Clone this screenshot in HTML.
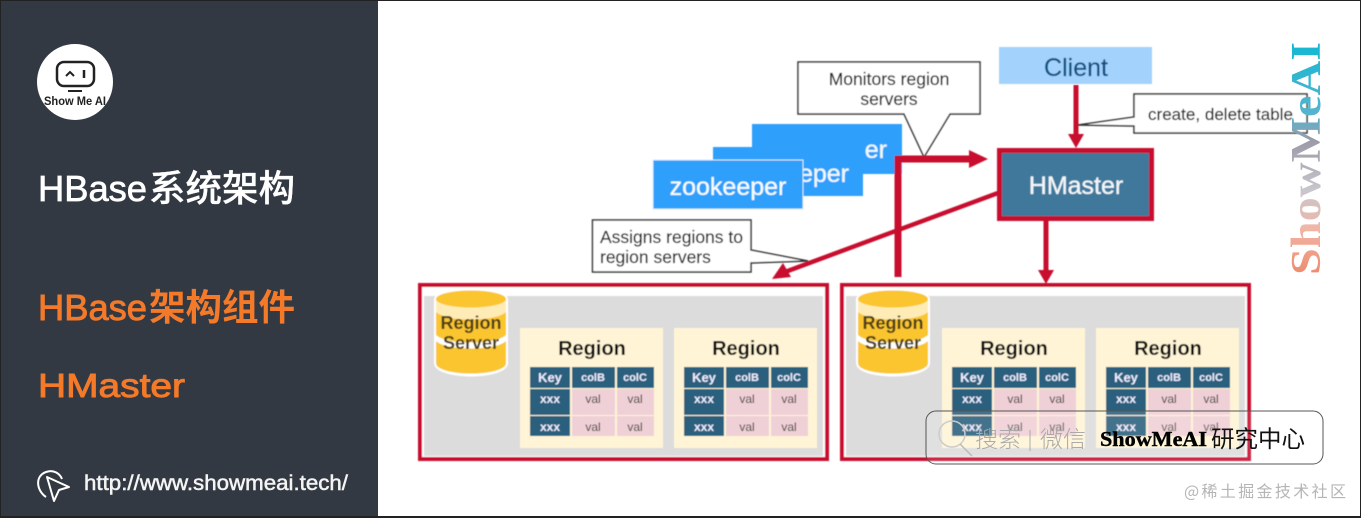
<!DOCTYPE html>
<html><head><meta charset="utf-8"><style>
html,body{margin:0;padding:0;background:#fff;width:1361px;height:518px;overflow:hidden}
svg{display:block}
text{font-family:"Liberation Sans","Noto Sans CJK SC",sans-serif}
</style></head><body>
<svg width="1361" height="518" viewBox="0 0 1361 518" xmlns="http://www.w3.org/2000/svg">
<defs>
<linearGradient id="wm" gradientUnits="userSpaceOnUse" x1="0" y1="0" x2="233" y2="0">
<stop offset="0" stop-color="#ee8a6c"/><stop offset=".2" stop-color="#f0b6a6"/><stop offset=".36" stop-color="#c9c7cc"/><stop offset=".58" stop-color="#9a9aa8"/><stop offset=".68" stop-color="#58b4cf"/><stop offset="1" stop-color="#12b8d2"/>
</linearGradient>
<filter id="b" x="-2%" y="-2%" width="104%" height="104%"><feGaussianBlur stdDeviation="0.45"/></filter>
<g id="table">
<rect x="0" y="0" width="143" height="120" fill="#fff4d6"/>
<text x="72" y="27" font-size="20" font-weight="bold" text-anchor="middle" fill="#111">Region</text>
<rect x="10" y="39" width="40" height="21" fill="#2b5f7d"/><rect x="52" y="39" width="43" height="21" fill="#2b5f7d"/><rect x="97" y="39" width="37" height="21" fill="#2b5f7d"/>
<rect x="10" y="61" width="40" height="26" fill="#2b5f7d"/><rect x="52" y="61" width="43" height="26" fill="#efd0d6"/><rect x="97" y="61" width="37" height="26" fill="#efd0d6"/>
<rect x="10" y="88" width="40" height="20" fill="#2b5f7d"/><rect x="52" y="88" width="43" height="20" fill="#efd0d6"/><rect x="97" y="88" width="37" height="20" fill="#efd0d6"/>
<g text-anchor="middle" font-size="12" font-weight="bold" fill="#eef">
<text x="30" y="54" font-size="13">Key</text><text x="73" y="53" font-size="11">colB</text><text x="115" y="53" font-size="11">colC</text>
<text x="30" y="75">xxx</text><text x="30" y="103">xxx</text></g>
<g text-anchor="middle" font-size="12" fill="#333">
<text x="73" y="75">val</text><text x="115" y="75">val</text><text x="73" y="103">val</text><text x="115" y="103">val</text></g>
</g>
<g id="server">
<rect x="0" y="0" width="407" height="174" fill="#fff" stroke="#c8102e" stroke-width="4"/>
<rect x="4" y="11" width="399" height="160" fill="#dcdcdc"/>
<path d="M14 14C14 2 88 2 88 14V78C88 96 14 96 14 78Z" fill="#fff"/>
<path d="M16 32V14C16 5 86 5 86 14V32C86 42 16 42 16 32Z" fill="#fcc72f" opacity="0.35"/>
<ellipse cx="51" cy="14" rx="35" ry="8.5" fill="#fac52f"/>
<path d="M16 27C26 37 76 37 86 27V50C76 60 26 60 16 50Z" fill="#fac52f"/>
<path d="M16 56C26 66 76 66 86 56V78C86 92 16 92 16 78Z" fill="#fac52f"/>
<g text-anchor="middle" font-size="18" font-weight="bold" fill="#4a3d1c"><text x="51" y="44">Region</text><text x="51" y="64">Server</text></g>
<use href="#table" x="100" y="43"/>
<use href="#table" x="254" y="43"/>
</g>
</defs>

<rect width="1361" height="518" fill="#fff"/>
<g filter="url(#b)">
<use href="#server" x="420" y="285"/>
<use href="#server" x="842" y="285"/>

<rect x="752" y="124" width="150" height="50" fill="#2e9ffb"/>
<text x="887" y="158" font-size="25" fill="#f2f8ff" stroke="#f2f8ff" stroke-width="0.3" text-anchor="end">er</text>
<rect x="713" y="147" width="150" height="49" fill="#2e9ffb"/>
<text x="849" y="182" font-size="25" fill="#f2f8ff" stroke="#f2f8ff" stroke-width="0.3" text-anchor="end">eper</text>
<rect x="653" y="160" width="150" height="49" fill="#2e9ffb" stroke="#d5ebff" stroke-width="1"/>
<text x="728" y="195" font-size="25" fill="#f6fbff" stroke="#f6fbff" stroke-width="0.3" text-anchor="middle">zookeeper</text>

<path d="M798 62H980V114H950L924 157L904 114H798Z" fill="#fff" stroke="#333" stroke-width="1.5"/>
<g font-size="17.5" fill="#222" stroke="#222" stroke-width="0.15" text-anchor="middle"><text x="889" y="85">Monitors region</text><text x="889" y="105">servers</text></g>

<path d="M592.5 220H751V250L808 261L751 263V272H592.5Z" fill="#fff" stroke="#333" stroke-width="1.5"/>
<g font-size="17.5" fill="#222" stroke="#222" stroke-width="0.15"><text x="600" y="243">Assigns regions to</text><text x="600" y="263">region servers</text></g>

<path d="M898 277V159H972" fill="none" stroke="#c8102e" stroke-width="7"/>
<path d="M969 150L988 159L969 168Z" fill="#c8102e"/>
<path d="M998 193L785 272" fill="none" stroke="#c8102e" stroke-width="4.5"/>
<path d="M772 279L783 263L791 277Z" fill="#c8102e"/>

<rect x="999" y="47" width="153" height="37" fill="#a3d2fc"/>
<text x="1076" y="76" font-size="25" fill="#0f4f7f" stroke="#0f4f7f" stroke-width="0.2" text-anchor="middle">Client</text>
<path d="M1076 85V136" stroke="#c8102e" stroke-width="5" fill="none"/>
<path d="M1068 134H1084L1076 148Z" fill="#c8102e"/>
<path d="M1134 94H1307V133H1134V126L1078 125L1134 117Z" fill="#fff" stroke="#333" stroke-width="1.5"/>
<text x="1148" y="120" font-size="17" fill="#222" stroke="#222" stroke-width="0.15" textLength="145" lengthAdjust="spacingAndGlyphs">create, delete table</text>

<rect x="999.5" y="150.5" width="152" height="68" fill="#41789b" stroke="#c8102e" stroke-width="5"/>
<text x="1076" y="194" font-size="25" fill="#f2f6f9" stroke="#f2f6f9" stroke-width="0.3" text-anchor="middle">HMaster</text>
<path d="M1046 221V272" stroke="#c8102e" stroke-width="5" fill="none"/>
<path d="M1038 270H1054L1046 284Z" fill="#c8102e"/>
</g>

<text transform="translate(1320 275) rotate(-90)" font-size="42" font-weight="bold" style="font-family:'Liberation Serif',serif" fill="url(#wm)" textLength="233" lengthAdjust="spacingAndGlyphs">ShowMeAI</text>

<rect x="926" y="411" width="397" height="53" rx="10" fill="#fff" fill-opacity="0.12" stroke="#555" stroke-width="1"/>
<circle cx="952" cy="434" r="13" fill="none" stroke="#ccc" stroke-width="1.5"/>
<path d="M960 444L972 456" stroke="#bbb" stroke-width="1.5"/>
<text x="975" y="447" font-size="23" font-weight="300" fill="#aaa" style="font-family:'Noto Sans CJK SC',sans-serif">搜索</text>
<path d="M1030 430V451" stroke="#aaa" stroke-width="1"/>
<text x="1040" y="447" font-size="23" font-weight="300" fill="#aaa" style="font-family:'Noto Sans CJK SC',sans-serif">微信</text>
<text x="1100" y="446" font-size="21" font-weight="bold" fill="#000" stroke="#000" stroke-width="0.4" style="font-family:'Liberation Serif',serif" textLength="107" lengthAdjust="spacingAndGlyphs">ShowMeAI</text>
<text x="1211" y="447" font-size="23.5" fill="#111" style="font-family:'Noto Sans CJK SC',sans-serif">研究中心</text>
<text x="1184" y="497" font-size="16" fill="#b5b5b5" style="font-family:'Noto Sans CJK SC',sans-serif" textLength="162">@稀土掘金技术社区</text>

<rect x="0" y="0" width="378" height="518" fill="#333942"/>
<circle cx="75" cy="82" r="38" fill="#fff"/>
<rect x="57" y="62" width="37" height="24" rx="7" fill="none" stroke="#222" stroke-width="2.5"/>
<path d="M66 76L70 72L74 76" fill="none" stroke="#222" stroke-width="2"/>
<path d="M84 70V78" stroke="#222" stroke-width="2.5"/>
<path d="M68 91H82" stroke="#222" stroke-width="2"/>
<text x="44" y="105" font-size="12" font-weight="bold" fill="#222" textLength="62" lengthAdjust="spacingAndGlyphs">Show Me AI</text>

<text x="38" y="201" font-size="36" fill="#fff" stroke="#fff" stroke-width="0.7" textLength="109" lengthAdjust="spacingAndGlyphs">HBase</text>
<text x="149" y="201" font-size="36.5" fill="#fff" stroke="#fff" stroke-width="0.3" style="font-family:'Noto Sans CJK SC',sans-serif" font-weight="500">系统架构</text>
<text x="38" y="320" font-size="36" fill="#f47a2a" stroke="#f47a2a" stroke-width="0.9" textLength="109" lengthAdjust="spacingAndGlyphs">HBase</text>
<text x="149" y="320" font-size="36.5" fill="#f47a2a" font-weight="bold" style="font-family:'Noto Sans CJK SC',sans-serif">架构组件</text>
<text x="38" y="397" font-size="33" fill="#f47a2a" stroke="#f47a2a" stroke-width="0.9" textLength="147" lengthAdjust="spacingAndGlyphs">HMaster</text>

<path d="M46 497C36 490 35 476 46 472C54 469 60 474 62 479" fill="none" stroke="#fff" stroke-width="2"/>
<path d="M47 477L69 487L59 490L54 501Z" fill="#333942" stroke="#fff" stroke-width="2" stroke-linejoin="round"/>
<text x="84" y="490" font-size="21" fill="#f4f4f4" stroke="#f4f4f4" stroke-width="0.5" textLength="264" lengthAdjust="spacingAndGlyphs">http://www.showmeai.tech/</text>

<rect x="0" y="0" width="1361" height="1" fill="#222"/>
<rect x="0" y="516" width="1361" height="2" fill="#222"/>
<rect x="0" y="0" width="1" height="518" fill="#222"/>
<rect x="1360" y="0" width="1" height="518" fill="#222"/>
</svg>
</body></html>
